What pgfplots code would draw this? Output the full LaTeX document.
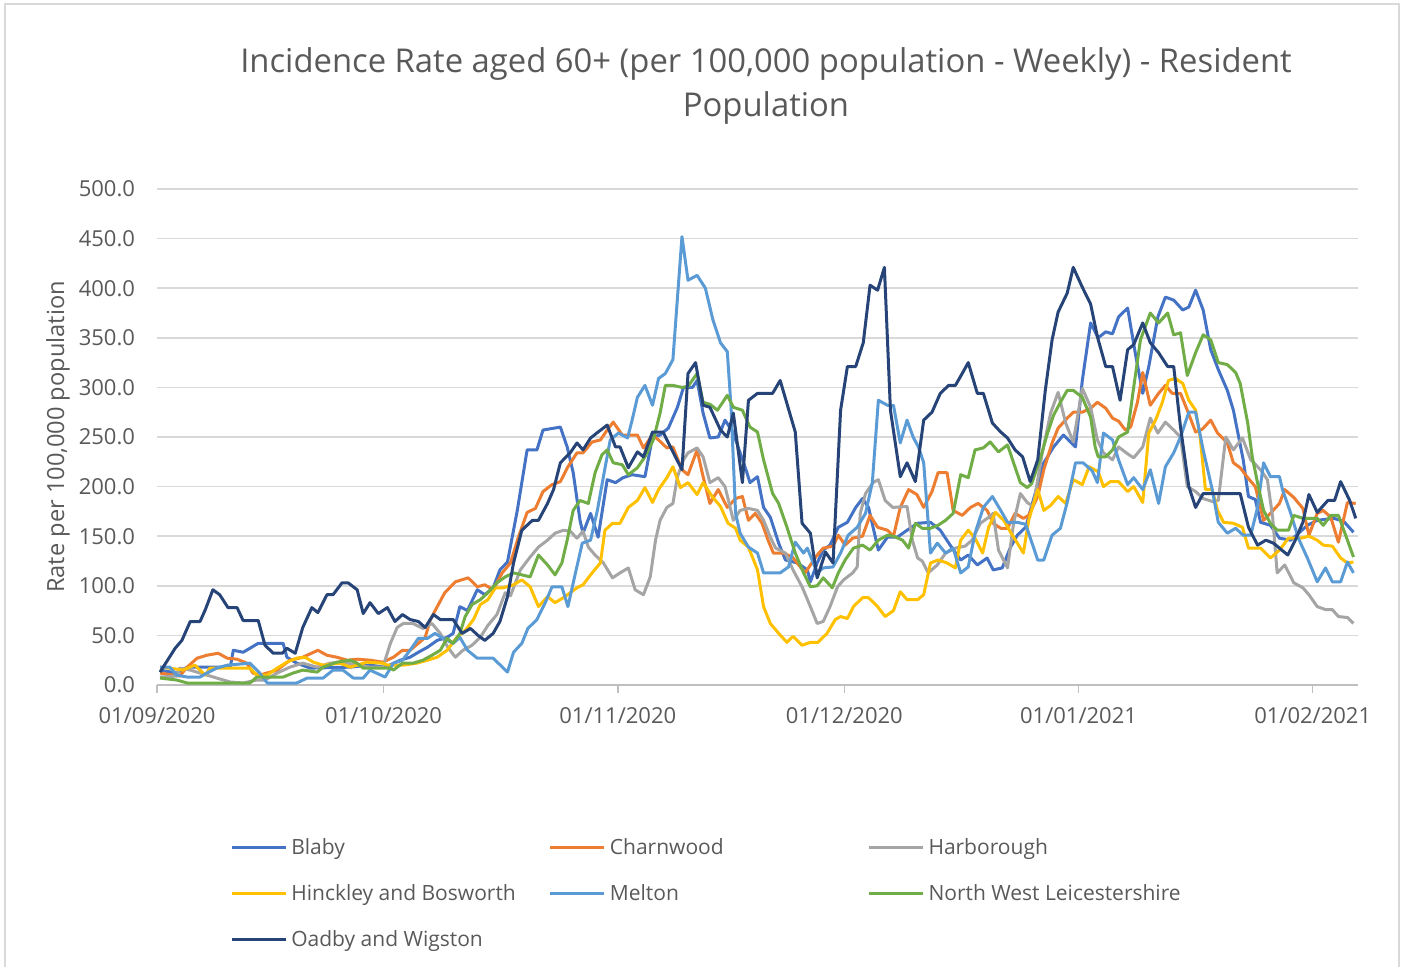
\documentclass[border=0pt]{standalone}
\usepackage{pgfplots}
\pgfplotsset{compat=1.18}
\usepackage{fontspec}
\setmainfont{Open Sans}
\definecolor{txt}{HTML}{595959}
\definecolor{gridgray}{HTML}{D9D9D9}
\definecolor{axisgray}{HTML}{BFBFBF}
\definecolor{bord}{HTML}{D9D9D9}
\definecolor{cBlaby}{HTML}{4472C4}
\definecolor{cCharn}{HTML}{ED7D31}
\definecolor{cHarb}{HTML}{A5A5A5}
\definecolor{cHinck}{HTML}{FFC000}
\definecolor{cMelton}{HTML}{5B9BD5}
\definecolor{cNWL}{HTML}{70AD47}
\definecolor{cOadby}{HTML}{264478}
\begin{document}
\begin{tikzpicture}
\useasboundingbox (0,0) rectangle (704pt,483.5pt);
\draw[draw=bord, line width=1.3pt] (2.5pt,-3pt) rectangle (699.5pt,481.5pt);
\node[text=txt, font=\fontsize{16.4}{22}\selectfont, align=center] at (383pt,440.5pt)
  {Incidence Rate aged 60+ (per 100,000 population - Weekly) - Resident\\Population};
\begin{axis}[
  at={(78.5pt,141pt)}, anchor=south west, scale only axis,
  width=600.5pt, height=248pt,
  xmin=0, xmax=159, ymin=0, ymax=500,
  axis x line*=bottom, axis y line*=left,
  x axis line style={draw=axisgray, line width=0.8pt},
  y axis line style={draw=none},
  xtick={0,30,61,91,122,153},
  xticklabels={01/09/2020,01/10/2020,01/11/2020,01/12/2020,01/01/2021,01/02/2021},
  xtick style={draw=axisgray, line width=0.8pt},
  tick align=outside, major tick length=4pt,
  ytick={0,50,...,500},
  ytick style={draw=none},
  ymajorgrids, grid style={draw=gridgray, line width=0.8pt},
  /pgf/number format/assume math mode=true,
  yticklabel style={/pgf/number format/fixed, /pgf/number format/fixed zerofill, /pgf/number format/precision=1, xshift=-3.5pt},
  xticklabel style={yshift=-3.5pt},
  tick label style={font=\fontsize{11}{12}\selectfont, text=txt},
  ylabel={Rate per 100,000 population},
  every axis y label/.style={at={(axis description cs:-0.0825,0.5)}, rotate=90, anchor=center, font=\fontsize{11.8}{13}\selectfont, text=txt},
  legend columns=3,
  legend cell align=left,
  legend style={at={(axis description cs:0.0607,-0.300)}, anchor=north west, draw=none, fill=none,
    font=\fontsize{10.5}{12}\selectfont, text=txt, inner sep=0pt, row sep=9.5pt,
    /tikz/every even column/.append style={column sep=0pt}},
  legend image code/.code={\draw[#1] (0pt,0pt) -- (27pt,0pt);},
  every axis plot/.append style={line width=1.5pt, line join=round, mark=none},
]
\addplot[color=cBlaby] coordinates {(0.4,15) (2.6,12) (4.0,18) (9.7,18) (10.1,35) (11.4,33) (12.3,37) (13.4,42) (16.7,42) (17.2,28) (18.5,22) (20.3,17) (25.6,18) (28.2,20) (30.2,18) (32.2,25) (33.5,28) (34.6,33) (35.8,38) (37.1,45) (38.4,48) (39.2,52) (40.1,79) (41.1,75) (42.4,96) (43.4,91) (44.5,98) (45.4,116) (46.4,124) (47.7,176) (49.0,237) (50.3,237) (51.1,257) (53.4,260) (54.3,240) (55.1,214) (56.0,166) (56.4,153) (57.4,173) (58.4,149) (59.6,207) (60.7,204) (61.7,209) (62.9,212) (64.6,210) (65.6,250) (66.6,252) (67.7,259) (68.9,280) (69.7,300) (70.9,300) (71.5,307) (72.3,274) (73.2,249) (74.3,250) (75.2,267) (76.3,254) (77.2,234) (78.1,214) (78.5,204) (79.5,210) (80.3,179) (81.2,169) (82.3,143) (83.2,126) (84.8,123) (86.1,116) (86.5,104) (87.4,123) (88.2,136) (89.1,141) (90.2,159) (91.4,164) (92.5,179) (93.4,188) (94.2,179) (94.8,159) (95.5,136) (96.7,149) (98.0,149) (99.3,156) (100.7,163) (102.4,164) (103.7,156) (105.0,141) (106.4,126) (107.4,131) (108.6,121) (109.9,128) (110.7,116) (111.9,118) (113.0,139) (113.9,151) (115.0,159) (116.0,186) (117.4,224) (118.7,240) (120.0,252) (121.6,240) (122.5,307) (123.6,365) (124.6,350) (125.6,356) (126.5,354) (127.3,371) (128.5,380) (129.5,335) (130.5,294) (131.3,321) (132.5,371) (133.5,391) (134.6,388) (135.8,378) (136.6,381) (137.5,398) (138.5,378) (139.5,338) (140.5,318) (141.7,297) (142.5,277) (143.8,227) (144.5,190) (145.4,187) (146.1,164) (147.4,161) (148.6,148) (150.1,146) (152.3,161) (153.6,166) (155.8,168) (157.1,165) (158.4,154)};
\addlegendentry{\makebox[126.8pt][l]{Blaby}}
\addplot[color=cCharn] coordinates {(0.4,12) (3.0,9) (4.0,18) (5.3,27) (6.6,30) (8.1,32) (9.3,27) (10.6,26) (11.9,22) (12.7,12) (13.6,10) (15.9,15) (17.6,25) (19.3,28) (21.3,35) (22.5,30) (23.8,28) (25.2,25) (26.5,26) (28.2,25) (29.9,23) (31.3,28) (32.5,35) (33.5,35) (34.6,42) (35.5,48) (36.2,66) (37.1,79) (38.1,93) (39.5,104) (41.2,108) (42.4,99) (43.4,101) (44.5,96) (45.7,113) (46.8,123) (47.8,148) (49.0,174) (50.1,178) (51.1,195) (52.3,202) (53.4,205) (54.4,220) (55.6,234) (56.4,234) (57.6,245) (58.7,247) (59.6,257) (60.4,265) (61.6,252) (63.6,252) (64.4,239) (65.6,252) (66.4,247) (67.5,239) (68.3,240) (69.5,217) (70.3,212) (71.5,237) (72.3,210) (73.2,183) (74.3,197) (75.5,179) (76.6,188) (77.5,190) (78.3,166) (79.2,173) (80.1,163) (80.9,146) (81.6,133) (82.9,133) (84.1,129) (85.8,113) (87.4,131) (88.2,138) (89.5,140) (90.2,151) (91.1,141) (92.1,148) (93.4,150) (94.4,171) (95.4,159) (96.7,156) (97.5,150) (98.4,179) (99.5,197) (100.6,192) (101.5,179) (102.6,195) (103.4,214) (104.6,214) (105.4,176) (106.6,171) (107.7,179) (108.7,183) (109.9,176) (110.7,163) (111.7,158) (112.6,158) (113.6,173) (114.7,168) (115.4,171) (116.6,190) (117.4,217) (118.5,244) (119.3,259) (120.5,269) (121.3,275) (122.5,275) (123.6,279) (124.5,285) (125.6,279) (126.5,269) (127.3,266) (128.2,257) (128.9,260) (129.8,285) (130.5,315) (131.5,282) (132.6,294) (133.5,302) (134.4,294) (135.5,294) (136.4,277) (137.5,255) (138.4,258) (139.5,267) (140.4,254) (141.7,244) (142.5,224) (143.4,219) (144.4,209) (145.4,200) (146.5,166) (147.4,173) (148.6,183) (149.3,197) (150.5,189) (151.7,178) (152.5,151) (153.6,173) (154.4,176) (155.4,169) (156.4,144) (157.6,184) (158.7,183)};
\addlegendentry{\makebox[126.8pt][l]{Charnwood}}
\addplot[color=cHarb] coordinates {(0.4,8) (2.6,9) (3.0,17) (4.4,15) (6.6,10) (7.9,7) (9.7,3) (11.4,2) (13.2,5) (14.3,5) (15.9,12) (17.6,18) (19.3,22) (21.2,18) (22.9,22) (24.6,23) (26.5,20) (28.2,18) (29.9,18) (30.9,42) (31.8,58) (32.6,62) (33.9,62) (35.2,57) (36.4,62) (37.5,52) (38.5,38) (39.5,28) (40.5,35) (41.7,40) (42.8,48) (43.8,60) (45.0,71) (46.1,93) (46.8,90) (48.1,116) (49.4,129) (50.5,139) (51.7,146) (52.7,153) (53.8,156) (54.7,155) (55.6,148) (56.4,155) (57.1,139) (58.0,131) (59.1,123) (60.3,108) (61.3,113) (62.4,118) (63.3,96) (64.4,91) (65.3,109) (66.0,146) (66.6,166) (67.5,179) (68.3,183) (68.9,210) (69.7,227) (70.3,234) (71.5,239) (72.3,230) (73.2,204) (74.3,209) (75.2,200) (76.3,166) (77.2,176) (78.3,178) (79.5,176) (80.3,166) (81.2,149) (81.9,138) (83.2,133) (84.2,116) (85.4,99) (86.5,79) (87.4,62) (88.2,64) (89.1,79) (90.1,99) (90.9,106) (92.1,113) (92.7,119) (93.1,173) (93.8,193) (94.8,204) (95.5,207) (96.4,186) (97.4,179) (99.3,180) (100.0,146) (100.7,128) (101.3,125) (102.1,113) (103.3,121) (104.4,133) (105.7,138) (107.0,140) (107.9,146) (109.0,163) (110.1,169) (110.7,173) (111.4,136) (112.6,118) (113.4,163) (114.3,193) (115.2,184) (116.0,180) (117.2,234) (118.3,274) (119.3,295) (120.3,264) (121.3,245) (122.5,299) (123.6,280) (124.5,247) (125.3,234) (126.5,227) (127.3,240) (128.5,233) (129.3,229) (130.5,240) (131.5,269) (132.5,254) (133.5,265) (134.6,257) (135.5,250) (136.4,200) (137.5,195) (138.5,188) (139.7,185) (140.5,186) (141.5,250) (142.5,237) (143.7,249) (144.8,227) (146.1,217) (147.0,207) (147.7,169) (148.3,113) (149.3,121) (150.5,103) (151.7,98) (152.5,91) (153.6,79) (154.7,76) (155.6,76) (156.4,69) (157.6,68) (158.4,62)};
\addlegendentry{\makebox[126.8pt][l]{Harborough}}
\addplot[color=cHinck] coordinates {(0.4,18) (2.6,16) (3.4,15) (5.0,20) (6.4,10) (7.0,17) (12.3,17) (13.2,10) (14.6,10) (15.9,17) (17.2,23) (18.5,27) (19.6,28) (20.7,23) (22.0,20) (24.2,22) (25.6,18) (27.8,23) (29.9,22) (30.5,20) (32.6,20) (34.4,22) (35.8,25) (37.1,28) (38.4,35) (39.7,48) (40.8,55) (41.9,66) (42.8,81) (43.8,86) (44.8,98) (45.8,98) (47.2,101) (48.3,106) (49.4,99) (50.5,79) (51.7,89) (52.7,83) (53.8,88) (54.7,93) (55.6,98) (56.4,101) (57.6,113) (58.7,123) (59.3,156) (60.3,163) (61.3,163) (62.4,179) (63.6,186) (64.6,199) (65.6,184) (66.4,197) (67.5,209) (68.3,220) (69.3,199) (70.3,204) (71.5,192) (72.3,204) (73.5,190) (74.6,180) (75.6,163) (76.6,158) (77.2,146) (78.3,139) (79.5,116) (80.3,79) (81.2,62) (82.3,52) (83.4,43) (84.2,49) (85.4,40) (86.5,43) (87.5,43) (88.7,52) (89.8,66) (90.5,69) (91.4,67) (92.2,79) (93.4,88) (94.2,88) (95.4,79) (96.4,69) (97.5,75) (98.4,94) (99.3,86) (100.7,86) (101.5,91) (102.4,123) (103.4,126) (104.6,123) (105.7,118) (106.4,146) (107.4,156) (108.3,148) (109.3,133) (110.1,159) (111.0,174) (112.1,166) (113.0,154) (113.9,143) (114.7,133) (115.4,166) (116.6,197) (117.4,176) (118.3,181) (119.3,190) (120.3,183) (121.3,207) (122.5,202) (123.4,220) (124.6,215) (125.3,200) (126.2,205) (127.3,205) (128.5,195) (129.3,200) (130.5,184) (131.3,254) (132.2,267) (133.1,285) (133.9,307) (134.8,309) (135.8,304) (136.6,287) (137.5,277) (138.1,250) (138.8,197) (139.7,197) (140.4,176) (141.2,164) (142.5,163) (143.7,159) (144.5,138) (146.1,138) (147.4,128) (148.6,136) (149.8,148) (151.4,148) (152.5,150) (153.6,146) (154.4,141) (155.6,140) (156.7,128) (157.6,123) (158.4,124)};
\addlegendentry{\makebox[126.8pt][l]{Hinckley and Bosworth}}
\addplot[color=cMelton] coordinates {(0.4,18) (1.7,18) (2.6,10) (4.0,8) (5.7,8) (6.6,12) (7.9,17) (9.3,20) (12.3,22) (13.6,12) (14.6,2) (18.5,2) (19.9,7) (22.0,7) (23.3,15) (24.6,15) (26.0,7) (27.3,7) (28.2,15) (30.2,8) (31.3,22) (32.5,25) (33.5,35) (34.6,47) (35.8,47) (36.8,52) (37.9,47) (39.2,42) (40.1,48) (41.1,35) (42.4,27) (44.5,27) (46.4,13) (47.2,33) (48.3,42) (49.1,57) (50.3,66) (51.4,83) (52.3,99) (53.6,99) (54.4,79) (55.4,113) (56.3,143) (57.4,146) (58.3,176) (59.1,210) (60.0,247) (61.1,254) (62.3,249) (62.9,267) (63.6,290) (64.6,302) (65.6,282) (66.4,309) (67.3,314) (68.3,328) (69.5,452) (70.3,408) (71.5,413) (72.6,400) (73.6,368) (74.6,345) (75.5,336) (76.0,280) (76.6,173) (77.2,153) (78.3,139) (79.5,133) (80.3,113) (82.5,113) (83.6,119) (84.5,144) (85.6,133) (86.1,138) (87.4,113) (88.2,118) (89.5,119) (90.5,133) (91.5,151) (92.7,159) (93.8,173) (94.7,204) (95.5,287) (96.7,282) (97.5,282) (98.4,244) (99.3,267) (100.1,250) (100.8,240) (101.5,224) (102.4,133) (103.3,143) (104.4,133) (105.4,138) (106.4,113) (107.4,119) (108.3,153) (109.4,179) (110.6,190) (111.7,176) (112.6,164) (113.9,164) (115.0,162) (116.6,126) (117.4,126) (118.5,151) (119.6,158) (120.5,184) (121.6,224) (122.6,224) (123.8,216) (124.5,204) (125.3,254) (126.5,247) (127.3,227) (128.5,202) (129.3,209) (130.5,197) (131.5,217) (132.6,183) (133.5,220) (134.6,234) (135.5,250) (136.6,275) (137.5,275) (138.5,237) (139.7,197) (140.5,164) (141.7,153) (142.8,158) (143.8,151) (144.8,151) (145.7,179) (146.5,224) (147.4,210) (148.6,210) (149.0,197) (150.1,173) (151.1,148) (152.3,128) (153.6,104) (154.7,118) (155.6,104) (156.7,104) (157.6,124) (158.4,113)};
\addlegendentry{\makebox[126.8pt][l]{Melton}}
\addplot[color=cNWL] coordinates {(0.4,7) (2.6,5) (4.0,2) (12.3,2) (13.2,8) (16.7,8) (18.0,12) (19.3,15) (21.2,13) (22.0,18) (23.8,23) (25.6,25) (26.5,22) (27.3,17) (30.9,17) (31.3,15) (32.5,22) (33.9,22) (35.2,25) (36.4,30) (37.5,35) (38.4,47) (39.2,42) (40.1,52) (40.8,69) (41.7,81) (42.8,86) (43.8,93) (45.0,103) (46.1,109) (47.2,113) (48.3,111) (49.4,109) (50.5,131) (51.7,121) (52.7,111) (53.6,123) (54.3,146) (55.1,176) (56.0,186) (57.1,183) (58.0,214) (58.9,232) (59.6,237) (60.4,224) (61.6,222) (62.4,212) (63.6,219) (64.6,230) (65.7,247) (66.6,274) (67.3,302) (68.3,302) (69.5,300) (70.3,301) (71.5,314) (72.3,285) (73.2,283) (74.2,277) (75.5,292) (76.3,280) (77.5,277) (78.5,260) (79.5,255) (80.3,227) (81.5,193) (82.3,183) (83.4,159) (84.5,133) (85.6,113) (86.5,99) (87.4,100) (88.2,108) (89.4,98) (90.2,113) (91.1,126) (92.2,138) (93.4,141) (94.4,136) (95.5,146) (96.7,151) (97.5,150) (98.7,146) (99.5,138) (100.4,163) (101.3,158) (102.4,158) (103.4,161) (104.4,166) (105.4,173) (106.4,212) (107.4,209) (108.3,237) (109.4,239) (110.3,245) (111.4,235) (112.6,242) (113.4,224) (114.3,204) (115.2,199) (115.8,203) (117.0,230) (117.9,254) (118.7,272) (119.6,285) (120.5,297) (121.3,297) (122.5,290) (123.6,270) (124.2,240) (124.6,230) (125.6,230) (126.5,237) (127.3,250) (128.5,255) (129.3,300) (130.2,348) (131.5,375) (132.6,365) (133.8,375) (134.6,353) (135.5,355) (136.4,312) (137.5,335) (138.5,353) (139.5,348) (140.5,325) (141.7,323) (142.8,315) (143.4,304) (144.4,264) (145.0,230) (145.8,200) (146.5,176) (147.4,163) (148.3,156) (149.8,156) (150.5,171) (151.7,168) (153.6,168) (154.4,161) (155.4,171) (156.4,171) (157.6,146) (158.4,129)};
\addlegendentry{\makebox[126.8pt][l]{North West Leicestershire}}
\addplot[color=cOadby] coordinates {(0.4,13) (2.4,37) (3.3,45) (4.4,64) (5.7,64) (6.4,76) (7.4,96) (8.3,91) (9.4,78) (10.6,78) (11.4,65) (13.4,65) (14.3,40) (15.4,32) (16.6,32) (17.2,37) (18.3,32) (19.3,58) (20.5,78) (21.3,73) (22.5,91) (23.3,91) (24.5,103) (25.3,103) (26.5,96) (27.3,72) (28.2,83) (29.3,72) (30.5,78) (31.5,64) (32.5,71) (33.5,66) (34.6,64) (35.5,58) (36.6,71) (37.5,66) (39.2,66) (40.4,52) (41.5,57) (42.5,50) (43.4,45) (44.5,52) (45.4,64) (46.4,89) (47.2,123) (48.3,156) (49.7,166) (50.5,166) (51.7,183) (52.5,197) (53.4,224) (54.7,234) (55.6,244) (56.4,237) (57.4,249) (58.4,255) (59.6,262) (60.7,240) (61.3,240) (62.4,219) (63.6,235) (64.4,230) (65.6,255) (67.0,255) (68.3,235) (69.5,217) (70.3,314) (71.3,325) (72.3,282) (73.2,280) (74.6,257) (75.5,250) (76.3,274) (77.5,204) (78.3,287) (79.5,294) (81.5,294) (82.5,307) (84.5,255) (85.4,163) (86.5,153) (87.4,108) (88.5,134) (89.5,123) (90.5,277) (91.4,321) (92.5,321) (93.5,345) (94.4,403) (95.4,398) (96.3,421) (97.1,277) (98.4,210) (99.3,224) (100.4,205) (101.5,267) (102.6,275) (103.7,294) (104.8,302) (105.7,302) (106.6,314) (107.4,325) (108.6,294) (109.4,294) (110.6,264) (111.7,255) (112.6,249) (113.6,237) (114.6,230) (115.6,205) (116.6,227) (117.6,297) (118.5,348) (119.3,376) (120.5,395) (121.3,421) (122.5,401) (123.6,384) (124.5,351) (125.6,321) (126.5,321) (127.5,287) (128.5,338) (129.3,343) (130.5,365) (131.5,345) (132.6,335) (133.8,321) (134.6,321) (135.5,260) (136.6,200) (137.5,179) (138.5,193) (143.4,193) (144.5,159) (145.7,141) (146.8,146) (147.8,143) (149.7,131) (150.7,146) (151.7,164) (152.5,192) (153.6,174) (155.0,186) (155.9,186) (156.7,205) (157.9,186) (158.7,168)};
\addlegendentry{\makebox[126.8pt][l]{Oadby and Wigston}}
\end{axis}
\end{tikzpicture}
\end{document}
